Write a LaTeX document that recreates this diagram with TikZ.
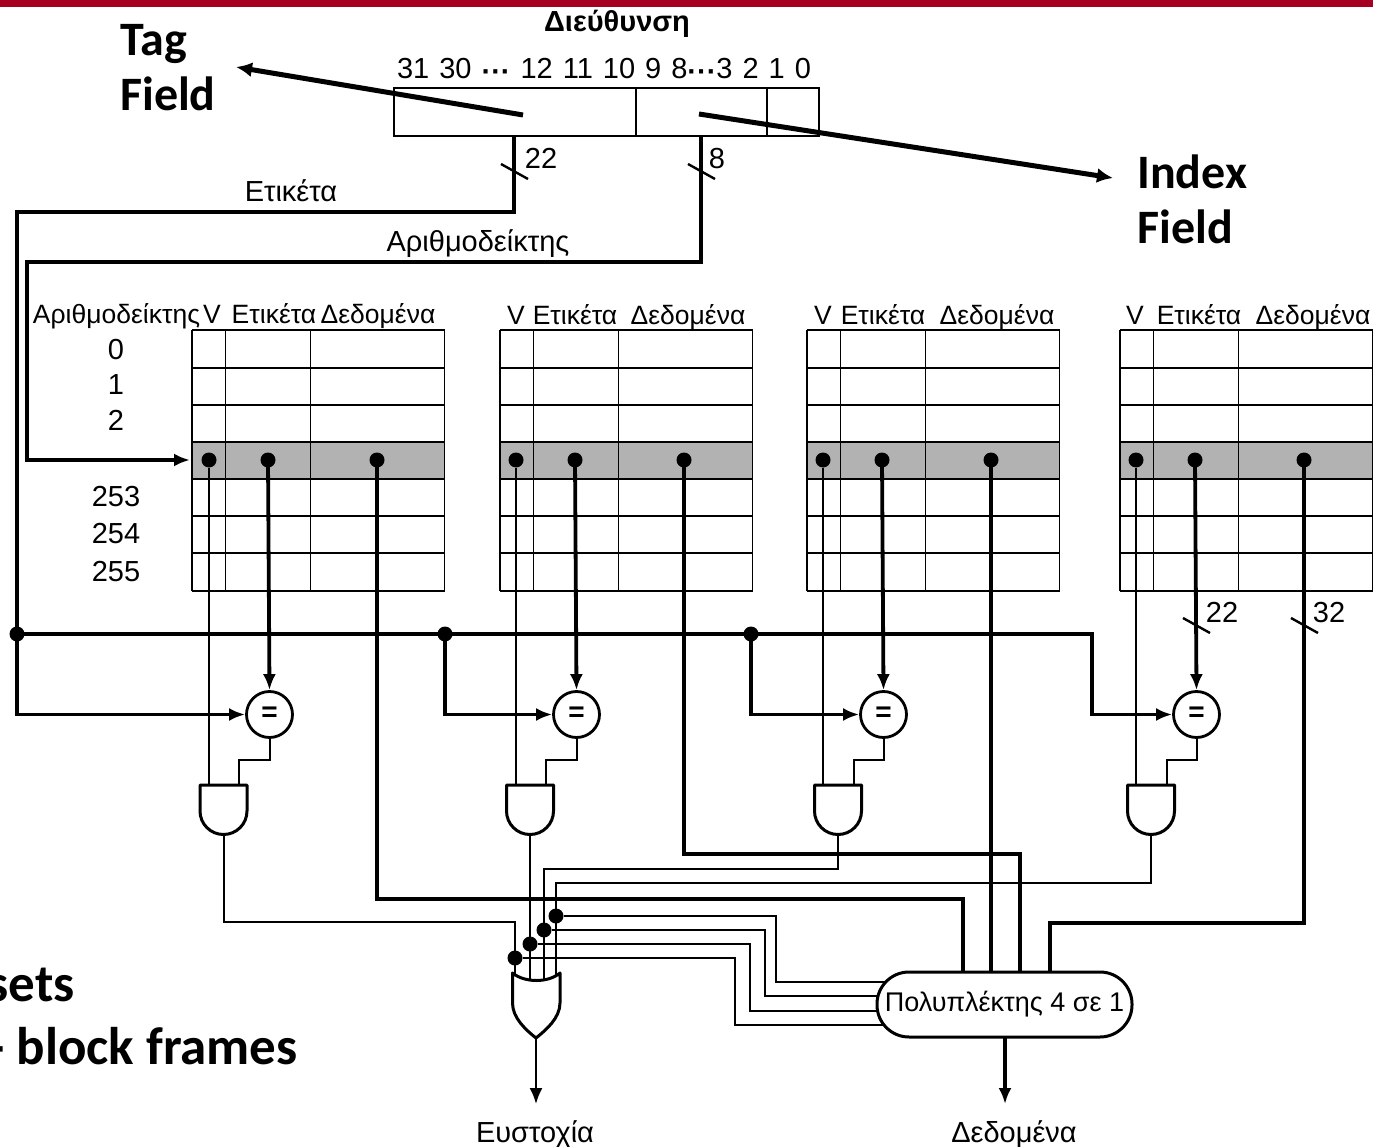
\documentclass[tikz,border=0pt]{standalone}
\usepackage{fontspec}
\setmainfont{Liberation Sans}
\newfontfamily\calfont{Carlito}
\usetikzlibrary{arrows.meta}
\definecolor{topbar}{HTML}{A50021}
\definecolor{rowgray}{HTML}{B2B2B2}
\tikzset{
    every node/.style={font=\fontsize{29}{29}\selectfont,inner sep=0pt},
    headtext/.style={font=\fontsize{26.5}{26.5}\selectfont,anchor=base},
    wire/.style={line width=2pt},
    bus/.style={line width=3.8pt,line cap=rect},
    frame/.style={line width=1.9pt},
    tipped/.style={-{Latex[length=16pt,width=13pt]}},
    bigarrow/.style={line width=5pt,-{Latex[length=16pt,width=15pt]}},
    gate/.style={line width=3pt,fill=white,line join=round},
    dot/.style={circle,fill=black,minimum size=15pt},
    eqnode/.style={circle,draw,line width=2.8pt,fill=white,minimum size=46pt,font=\bfseries\fontsize{28}{28}\selectfont},
    muxnode/.style={draw,line width=3pt,fill=white,rounded corners=32pt,minimum width=255pt,minimum height=65pt,font=\fontsize{27}{27}\selectfont},
    bigtext/.style={font=\calfont\bfseries\fontsize{48}{55}\selectfont,align=left},
    cuttext/.style={font=\calfont\bfseries\fontsize{53}{55}\selectfont,anchor=base east},
}
\newcommand{\slashmark}[2]{\draw[line width=2.4pt] (#1-13,#2-7.5) -- (#1+14,#2+7.5);}
\newcommand{\bitdots}{\raisebox{-2.5pt}{\textbf{···}}}
\begin{document}
\begin{tikzpicture}[x=1pt,y=-1pt]
    \useasboundingbox (0,0) rectangle (1373,1147);
    \fill[topbar] (0,0) rectangle (1373,7);
    % address word
    \node[font=\bfseries\fontsize{29}{29}\selectfont] (addr) at (617,24) {Διεύθυνση};
    \node (bits) at (604,70) {\spaceskip=10pt 31 30 \bitdots{} 12 11 10 9 8\bitdots{}3 2 1 0};
    \draw[frame] (394,88) rectangle (819,136);
    \draw[frame] (636,88) -- (636,136);
    \draw[frame] (767,88) -- (767,136);
    \coordinate (tagout) at (514,138);
    \coordinate (indexout) at (701,138);
    % cache ways
    \foreach \w/\tx/\vx/\tagx/\datax/\andx in {1/192/209/268/377/223.5,2/500/516/575/684/530,3/807/823/882/991/838,4/1120/1136/1195/1304/1151} {
        \fill[rowgray] (\tx,442) rectangle (\tx+252.5,479);
        \foreach \yy in {330,368,405,442,479,516,553,591} {
            \draw[frame] (\tx,\yy) -- (\tx+252.5,\yy);
        }
        \foreach \dd in {0,33.5,118.5,252.5} {
            \draw[frame] (\tx+\dd,330) -- (\tx+\dd,591);
        }
        \node[dot] (vdot\w) at (\vx,460) {};
        \node[dot] (tagdot\w) at (\tagx,460) {};
        \node[dot] (datadot\w) at (\datax,460) {};
        \node[eqnode] (eq\w) at (\tagx+1.5,714.5) {=};
        \draw[bus,tipped] (tagdot\w) -- (eq\w.north);
        \coordinate (and\w) at (\andx,834);
        \draw[wire] (vdot\w) -- (\vx,785);
        \draw[wire] (eq\w.south) -- (\tagx+1.5,760) -- (\andx+15.5,760) -- (\andx+15.5,785);
        \draw[gate] (\andx-23.5,785) -- (\andx+23.5,785) -- (\andx+23.5,811)
            arc (0:-180:23.5pt) -- cycle;
    }
    % labels above the ways
    \node[headtext] (indexhead) at (116.5,323.5) {Αριθμοδείκτης};
    \foreach \nn/\vv/\ee/\dd/\yy in {a/212/274/378/323.5,b/516/575/688/324.5,c/823/883/997/324.5,d/1135/1199/1313/324.5} {
        \node[headtext] (v\nn) at (\vv,\yy) {V};
        \node[headtext] (tag\nn) at (\ee,\yy) {Ετικέτα};
        \node[headtext] (data\nn) at (\dd,\yy) {Δεδομένα};
    }
    \foreach \nn/\yy in {0/349.5,1/384.5,2/420.5,253/497,254/534,255/572} {
        \node (row\nn) at (116,\yy) {\nn};
    }
    % tag bus
    \node[dot] (jn1) at (17,634) {};
    \node[dot] (jn2) at (445,634) {};
    \node[dot] (jn3) at (751,634) {};
    \coordinate (jn4) at (1092,634);
    \draw[bus] (tagout) -- (514,212) -- (17,212) -- (jn1);
    \draw[bus] (jn1) -- (jn4);
    \foreach \w in {1,2,3,4} {
        \draw[bus,tipped] (jn\w) |- (eq\w.west);
    }
    % index line
    \draw[bus,tipped] (indexout) -- (701,262) -- (27,262) |- (190,460);
    \node (taglabel) at (291,191) {Ετικέτα};
    \node (indexlabel) at (478,244) {Αριθμοδείκτης};
    \slashmark{514}{171.5}
    \slashmark{701}{171.5}
    \slashmark{1196}{625.5}
    \slashmark{1304}{625.5}
    \node (w22a) at (541,158) {22};
    \node (w8) at (717,159) {8};
    \node (w22b) at (1222,612) {22};
    \node (w32) at (1329,613) {32};
    % multiplexer
    \node[muxnode] (mux) at (1004.5,1004.5) {Πολυπλέκτης 4 σε 1};
    \draw[bus] (datadot1) -- (377,899) -- (963,899) -- (963,970);
    \draw[bus] (datadot2) -- (684,854) -- (1020,854) -- (1020,970);
    \draw[bus] (datadot3) -- (991,970);
    \draw[bus] (datadot4) -- (1304,923) -- (1050,923) -- (1050,970);
    \draw[bus,tipped] (mux.south -| 1005,0) -- (1005,1104);
    % hit logic
    \draw[wire] (and1) -- (223.5,922) -- (515,922) -- (515,980);
    \draw[wire] (and2) -- (530,980);
    \draw[wire] (and3) -- (838,869) -- (544,869) -- (544,980);
    \draw[wire] (and4) -- (1151,883) -- (556,883) -- (556,980);
    \node[dot] (hit1) at (515,958) {};
    \node[dot] (hit2) at (530,944) {};
    \node[dot] (hit3) at (544,930) {};
    \node[dot] (hit4) at (556,916) {};
    \draw[wire] (hit1) -- (734.5,958) -- (734.5,1025) -- (884,1025);
    \draw[wire] (hit2) -- (750,944) -- (750,1011) -- (878,1011);
    \draw[wire] (hit3) -- (764.5,930) -- (764.5,996) -- (878,996);
    \draw[wire] (hit4) -- (776,916) -- (776,982) -- (886,982);
    \draw[gate] (512.5,973) .. controls (525,983) and (548,983) .. (560,973) -- (560,1003)
        .. controls (560,1018) and (546,1030) .. (536,1038)
        .. controls (526,1030) and (512.5,1018) .. (512.5,1003) -- cycle;
    \coordinate (orout) at (536,1038);
    \draw[wire,tipped] (orout) -- (536,1104);
    \node (hitlabel) at (535,1135) {Ευστοχία};
    \node (datalabel) at (1014,1134) {Δεδομένα};
    % overlaid callouts
    \coordinate (tagfrom) at (523,115);
    \coordinate (tagto) at (236,67);
    \coordinate (indexfrom) at (699,114);
    \coordinate (indexto) at (1113,178);
    \draw[bigarrow] (tagfrom) -- (tagto);
    \draw[bigarrow] (indexfrom) -- (indexto);
    \node[bigtext,anchor=west] (tagfield) at (120,68) {Tag\\Field};
    \node[bigtext,anchor=west] (indexfield) at (1137,199) {Index\\Field};
    \node[cuttext] (setstext) at (75,1001) {sets};
    \node[cuttext] (framestext) at (298,1064.5) {- block frames};
\end{tikzpicture}
\end{document}
